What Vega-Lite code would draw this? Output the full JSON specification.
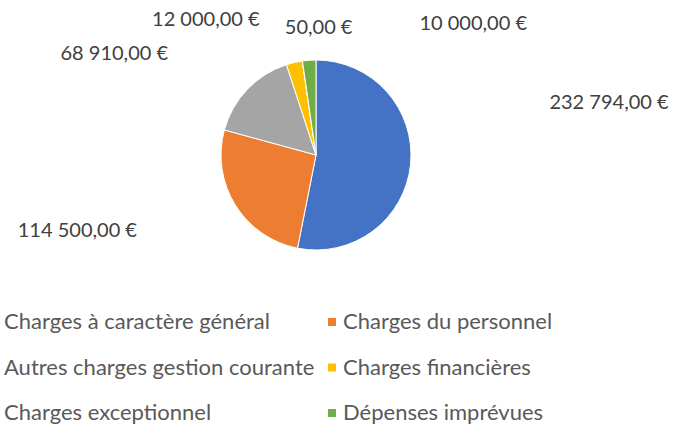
{
  "$schema": "https://vega.github.io/schema/vega-lite/v6.json",
  "width": 632,
  "height": 310,
  "autosize": {"type": "none"},
  "padding": {"left": 0, "top": 0, "right": 45, "bottom": 119},
  "background": "white",
  "data": {
    "values": [
      {"cat": "Charges à caractère général", "value": 232794},
      {"cat": "Charges du personnel", "value": 114500},
      {"cat": "Autres charges gestion courante", "value": 68910},
      {"cat": "Charges financières", "value": 12000},
      {"cat": "Charges exceptionnel", "value": 50},
      {"cat": "Dépenses imprévues", "value": 10000}
    ]
  },
  "transform": [{"window": [{"op": "row_number", "as": "rank"}]}],
  "encoding": {
    "theta": {"field": "value", "type": "quantitative", "stack": true},
    "order": {"field": "rank", "type": "quantitative"}
  },
  "layer": [
    {
      "mark": {"type": "arc", "outerRadius": 95, "stroke": "white", "strokeWidth": 1},
      "encoding": {
        "color": {
          "field": "cat",
          "type": "nominal",
          "scale": {
            "domain": ["Charges à caractère général", "Charges du personnel", "Autres charges gestion courante", "Charges financières", "Charges exceptionnel", "Dépenses imprévues"],
            "range": ["#4472C4", "#ED7D31", "#A5A5A5", "#FFC000", "#5B9BD5", "#70AD47"]
          },
          "legend": {
            "title": null,
            "orient": "none",
            "legendX": -18,
            "legendY": 311,
            "columns": 2,
            "direction": "horizontal",
            "gridAlign": "each",
            "symbolType": "square",
            "symbolSize": 64,
            "symbolStrokeWidth": 0,
            "labelFont": "Lato",
            "labelFontSize": 22,
            "labelColor": "#595959",
            "labelOffset": 0,
            "labelLimit": 500,
            "columnPadding": 6,
            "rowPadding": 23.5,
            "padding": 0
          }
        }
      }
    },
    {
      "mark": {"type": "text", "radius": 120, "align": "left", "baseline": "middle", "dx": 114, "dy": -63.5, "font": "Lato", "fontSize": 20, "color": "#404040"},
      "encoding": {"text": {"condition": {"test": "datum.cat === 'Charges à caractère général'", "field": "value", "type": "quantitative", "format": "$,.2f"}, "value": ""}}
    },
    {
      "mark": {"type": "text", "radius": 120, "align": "right", "baseline": "middle", "dx": -77, "dy": 12.5, "font": "Lato", "fontSize": 20, "color": "#404040"},
      "encoding": {"text": {"condition": {"test": "datum.cat === 'Charges du personnel'", "field": "value", "type": "quantitative", "format": "$,.2f"}, "value": ""}}
    },
    {
      "mark": {"type": "text", "radius": 120, "align": "right", "baseline": "middle", "dx": -61, "dy": -18.5, "font": "Lato", "fontSize": 20, "color": "#404040"},
      "encoding": {"text": {"condition": {"test": "datum.cat === 'Autres charges gestion courante'", "field": "value", "type": "quantitative", "format": "$,.2f"}, "value": ""}}
    },
    {
      "mark": {"type": "text", "radius": 120, "align": "right", "baseline": "middle", "dx": -29, "dy": -18.5, "font": "Lato", "fontSize": 20, "color": "#404040"},
      "encoding": {"text": {"condition": {"test": "datum.cat === 'Charges financières'", "field": "value", "type": "quantitative", "format": "$,.2f"}, "value": ""}}
    },
    {
      "mark": {"type": "text", "radius": 120, "align": "left", "baseline": "middle", "dx": -14, "dy": -8.5, "font": "Lato", "fontSize": 20, "color": "#404040"},
      "encoding": {"text": {"condition": {"test": "datum.cat === 'Charges exceptionnel'", "field": "value", "type": "quantitative", "format": "$,.2f"}, "value": ""}}
    },
    {
      "mark": {"type": "text", "radius": 120, "align": "left", "baseline": "middle", "dx": 112, "dy": -11.5, "font": "Lato", "fontSize": 20, "color": "#404040"},
      "encoding": {"text": {"condition": {"test": "datum.cat === 'Dépenses imprévues'", "field": "value", "type": "quantitative", "format": "$,.2f"}, "value": ""}}
    }
  ],
  "config": {
    "view": {"stroke": null},
    "locale": {"number": {"decimal": ",", "thousands": " ", "grouping": [3], "currency": ["", " €"]}}
  }
}
